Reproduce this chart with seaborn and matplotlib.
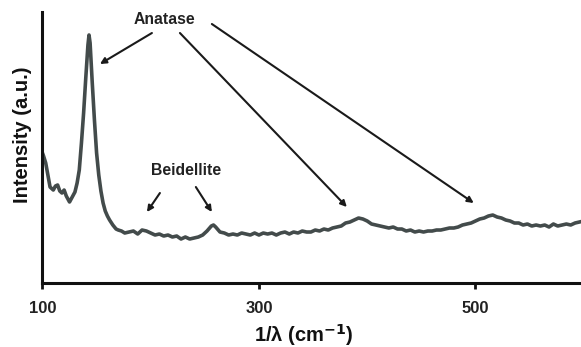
import matplotlib
matplotlib.use("Agg")
import matplotlib.pyplot as plt
import seaborn as sns
import pandas as pd

# wavenumber (cm^-1) and intensity (a.u.)
wavenumber = [100, 101, 103, 105, 107, 110, 112, 114, 116, 118, 120, 122, 125, 127,
              130, 132, 134, 136, 138, 140, 142, 143, 144, 146, 148, 150, 152, 154,
              156, 158, 160, 162, 165, 168, 170, 173, 176,
              180, 184, 188, 192, 196, 200, 204, 208, 212, 216, 220, 224, 228, 232,
              236, 240, 244, 248, 252, 256, 258, 260, 264, 268, 272, 276, 280, 284,
              288, 292, 296, 300, 304, 308, 312, 316, 320, 324, 328, 332, 336, 340,
              344, 348, 352, 356, 360, 364, 368, 372, 376, 380, 384, 388, 392, 396,
              400, 404, 408, 412, 416, 420, 424, 428, 432, 436, 440, 444, 448, 452,
              456, 460, 464, 468, 472, 476, 480, 484, 488, 492, 496, 500, 504, 508,
              512, 516, 520, 524, 528, 532, 536, 540, 544, 548, 552, 556, 560, 564,
              568, 572, 576, 580, 584, 588, 592, 596, 600]
intensity = [130, 127, 120, 108, 96, 93, 97, 98, 92, 90, 93, 87, 81, 85,
             91, 100, 113, 140, 170, 205, 238, 248, 240, 200, 163, 130, 108, 92,
             80, 72, 67, 63, 58, 54, 53, 52, 50,
             51, 52, 49, 53, 52, 50, 48, 49, 47, 48, 46, 47, 44, 46,
             44, 45, 46, 48, 52, 57, 58, 56, 51, 50, 48, 49, 48, 50,
             49, 48, 50, 48, 50, 49, 50, 48, 50, 51, 49, 51, 50, 52,
             51, 51, 53, 52, 54, 53, 55, 56, 57, 60, 61, 63, 65, 64,
             62, 59, 58, 57, 56, 55, 56, 54, 54, 52, 53, 51, 52, 51,
             52, 52, 53, 53, 54, 55, 55, 56, 58, 59, 60, 62, 64, 65,
             67, 68, 66, 65, 63, 62, 60, 60, 58, 59, 57, 58, 57, 58,
             56, 59, 57, 58, 59, 58, 60, 61, 62]

xticks = [100, 300, 500]

sns.set_theme(style="white")
plt.rcParams["font.family"] = ["Liberation Sans", "DejaVu Sans"]

fig = plt.figure(figsize=(5.81, 3.47), dpi=100)
ax = fig.add_axes([0.0731, 0.1844, 0.9269, 0.781])

df = pd.DataFrame({"x": wavenumber, "y": intensity})
sns.lineplot(data=df, x="x", y="y", ax=ax, color="#434b4b", linewidth=2.6)

ax.set_xlim(100, 597.5)
ax.set_ylim(0, 271)
ax.set_xticks(xticks)
ax.set_xticklabels([str(t) for t in xticks], fontsize=12, fontweight="bold", color="#222222")
ax.set_yticks([])
ax.tick_params(axis="x", direction="out", length=4, width=2, color="#111111", pad=9, bottom=True)

for side in ["top", "right"]:
    ax.spines[side].set_visible(False)
for side in ["left", "bottom"]:
    ax.spines[side].set_color("#111111")
    ax.spines[side].set_linewidth(2.2)

ax.set_xlabel("1/λ (cm$^{\\mathbf{-1}}$)", fontsize=14.5, fontweight="bold", color="#111111")
ax.xaxis.set_label_coords(0.486, -0.192)
ax.xaxis.label.set_va("center")
ax.set_ylabel("Intensity (a.u.)", fontsize=14.5, fontweight="bold", color="#111111")
ax.yaxis.set_label_coords(-0.038, 0.546)
ax.yaxis.label.set_va("center")

arrow = dict(arrowstyle="-|>", color="#1a1a1a", lw=1.5, mutation_scale=9, shrinkA=0, shrinkB=0)
ax.text(213.1, 264, "Anatase", ha="center", va="center", fontsize=11.3, fontweight="bold", color="#222222")
ax.annotate("", xy=(153.1, 219), xytext=(201.1, 250), arrowprops=arrow)
ax.annotate("", xy=(381.2, 76), xytext=(227.0, 250), arrowprops=arrow)
ax.annotate("", xy=(498.4, 80), xytext=(256.5, 259), arrowprops=arrow)

ax.text(232.5, 113, "Beidellite", ha="center", va="center", fontsize=11.3, fontweight="bold", color="#222222")
ax.annotate("", xy=(196.5, 71), xytext=(208.5, 90), arrowprops=arrow)
ax.annotate("", xy=(256.5, 71), xytext=(241.7, 96), arrowprops=arrow)

fig.savefig("out.png", dpi=100)
